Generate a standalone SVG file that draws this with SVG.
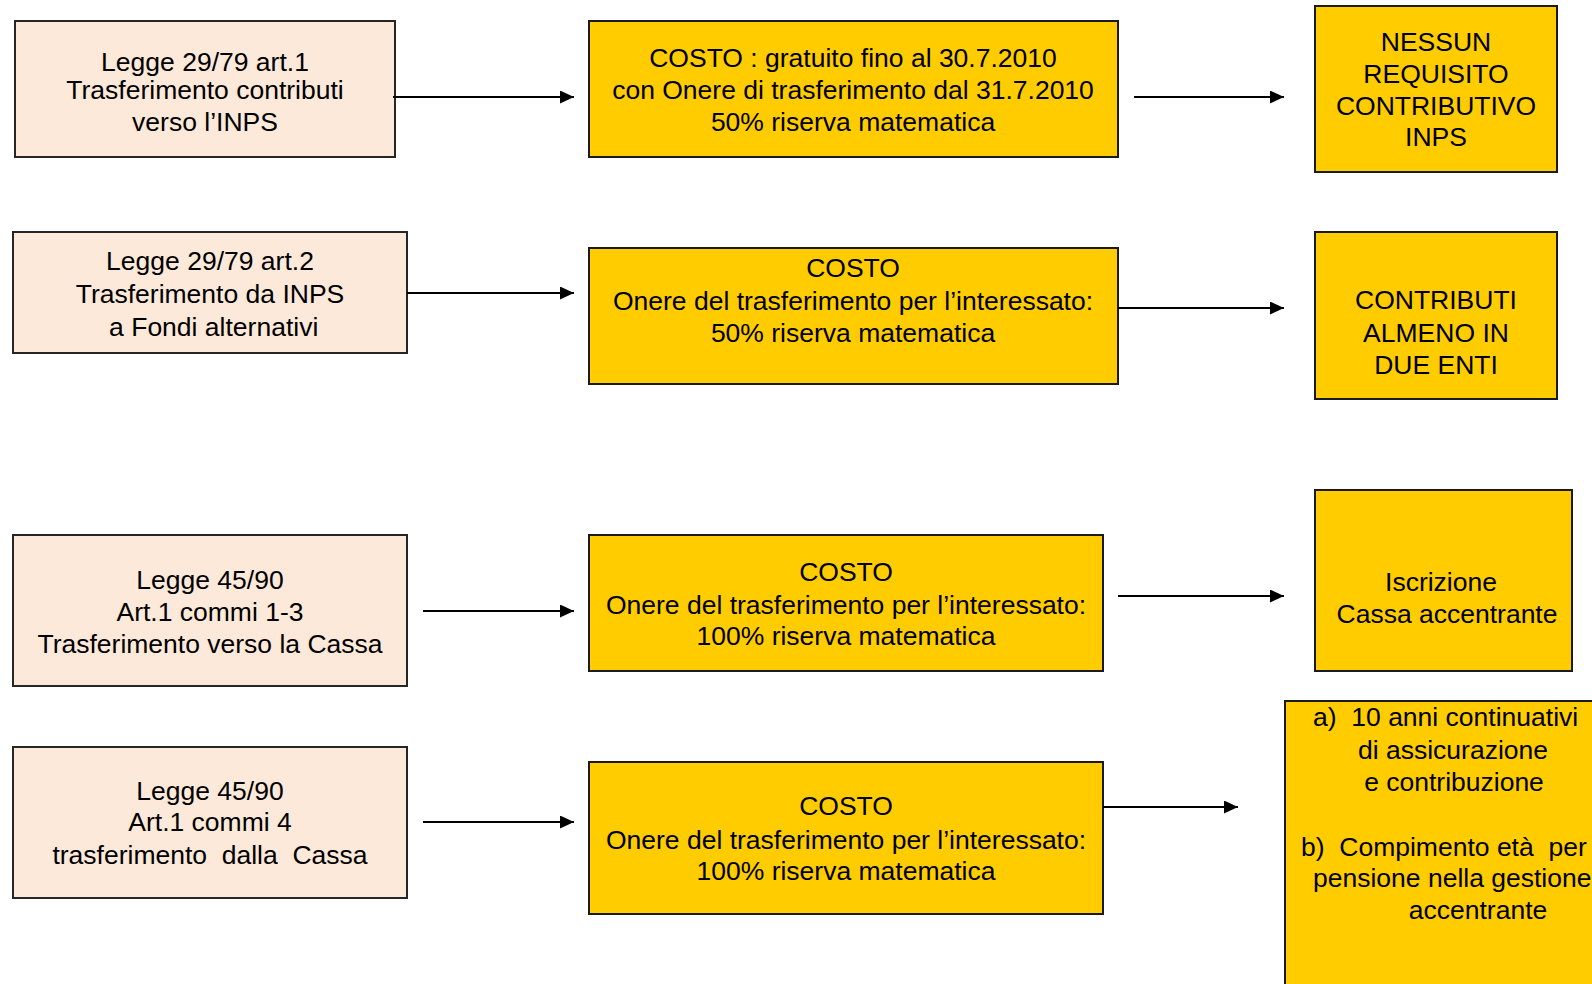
<svg xmlns="http://www.w3.org/2000/svg" width="1592" height="984" viewBox="0 0 1592 984">
<style>
.peach{fill:#FDE9D9;stroke:#262626;stroke-width:2}
.gold{fill:#FFCC00;stroke:#1a1a1a;stroke-width:2}
text{font-family:"Liberation Sans",Arial,sans-serif;font-size:26.5px;fill:#000;white-space:pre}
.c{text-anchor:middle}
.conn line{stroke:#000;stroke-width:2;marker-end:url(#ah)}
</style>
<defs>
<marker id="ah" viewBox="0 0 10 10" refX="10" refY="5" markerWidth="14" markerHeight="13" markerUnits="userSpaceOnUse" orient="auto" preserveAspectRatio="none">
<path d="M0,0 L10,5 L0,10 Z" fill="#000"/>
</marker>
</defs>
<rect width="1592" height="984" fill="#fff"/>

<g id="L1"><rect class="peach" x="15" y="21" width="380" height="136"/>
<text class="c" x="205" y="71">Legge 29/79 art.1</text>
<text class="c" x="205" y="99">Trasferimento contributi</text>
<text class="c" x="205" y="131">verso l’INPS</text></g>

<g id="L2"><rect class="peach" x="13" y="232" width="394" height="121"/>
<text class="c" x="210" y="270">Legge 29/79 art.2</text>
<text class="c" x="210" y="303">Trasferimento da INPS</text>
<text class="c" x="210" y="336" xml:space="preserve"> a Fondi alternativi</text></g>

<g id="L3"><rect class="peach" x="13" y="535" width="394" height="151"/>
<text class="c" x="210" y="589">Legge 45/90</text>
<text class="c" x="210" y="621">Art.1 commi 1-3</text>
<text class="c" x="210" y="653">Trasferimento verso la Cassa</text></g>

<g id="L4"><rect class="peach" x="13" y="747" width="394" height="151"/>
<text class="c" x="210" y="800">Legge 45/90</text>
<text class="c" x="210" y="831">Art.1 commi 4</text>
<text class="c" x="210" y="864" xml:space="preserve">trasferimento  dalla  Cassa</text></g>

<g id="M1"><rect class="gold" x="589" y="21" width="529" height="136"/>
<text class="c" x="853" y="67">COSTO : gratuito fino al 30.7.2010</text>
<text class="c" x="853" y="99">con Onere di trasferimento dal 31.7.2010</text>
<text class="c" x="853" y="131">50% riserva matematica</text></g>

<g id="M2"><rect class="gold" x="589" y="248" width="529" height="136"/>
<text class="c" x="853" y="277">COSTO</text>
<text class="c" x="853" y="310">Onere del trasferimento per l’interessato:</text>
<text class="c" x="853" y="342">50% riserva matematica</text></g>

<g id="M3"><rect class="gold" x="589" y="535" width="514" height="136"/>
<text class="c" x="846" y="581">COSTO</text>
<text class="c" x="846" y="614">Onere del trasferimento per l’interessato:</text>
<text class="c" x="846" y="645">100% riserva matematica</text></g>

<g id="M4"><rect class="gold" x="589" y="762" width="514" height="152"/>
<text class="c" x="846" y="815">COSTO</text>
<text class="c" x="846" y="849">Onere del trasferimento per l’interessato:</text>
<text class="c" x="846" y="880">100% riserva matematica</text></g>

<g id="R1"><rect class="gold" x="1315" y="6" width="242" height="166"/>
<text class="c" x="1436" y="51">NESSUN</text>
<text class="c" x="1436" y="83">REQUISITO</text>
<text class="c" x="1436" y="115">CONTRIBUTIVO</text>
<text class="c" x="1436" y="146">INPS</text></g>

<g id="R2"><rect class="gold" x="1315" y="232" width="242" height="167"/>
<text class="c" x="1436" y="309">CONTRIBUTI</text>
<text class="c" x="1436" y="342">ALMENO IN</text>
<text class="c" x="1436" y="374">DUE ENTI</text></g>

<g id="R3"><rect class="gold" x="1315" y="490" width="257" height="181"/>
<text class="c" x="1441" y="591">Iscrizione</text>
<text class="c" x="1447" y="623">Cassa accentrante</text></g>

<g id="R4"><rect class="gold" x="1285" y="701" width="320" height="300"/>
<text x="1313" y="726" xml:space="preserve">a)  10 anni continuativi</text>
<text class="c" x="1453" y="759">di assicurazione</text>
<text class="c" x="1454" y="791">e contribuzione</text>
<text x="1301" y="856" xml:space="preserve">b)  Compimento età  per</text>
<text x="1313" y="887">pensione nella gestione</text>
<text class="c" x="1478" y="919">accentrante</text></g>

<g id="connectors" class="conn">
<line x1="393" y1="97" x2="574" y2="97"/>
<line x1="407" y1="293" x2="574" y2="293"/>
<line x1="423" y1="611" x2="574" y2="611"/>
<line x1="423" y1="822" x2="574" y2="822"/>
<line x1="1134" y1="97" x2="1284" y2="97"/>
<line x1="1118" y1="308" x2="1284" y2="308"/>
<line x1="1118" y1="596" x2="1284" y2="596"/>
<line x1="1103" y1="807" x2="1238" y2="807"/>
</g>
</svg>
